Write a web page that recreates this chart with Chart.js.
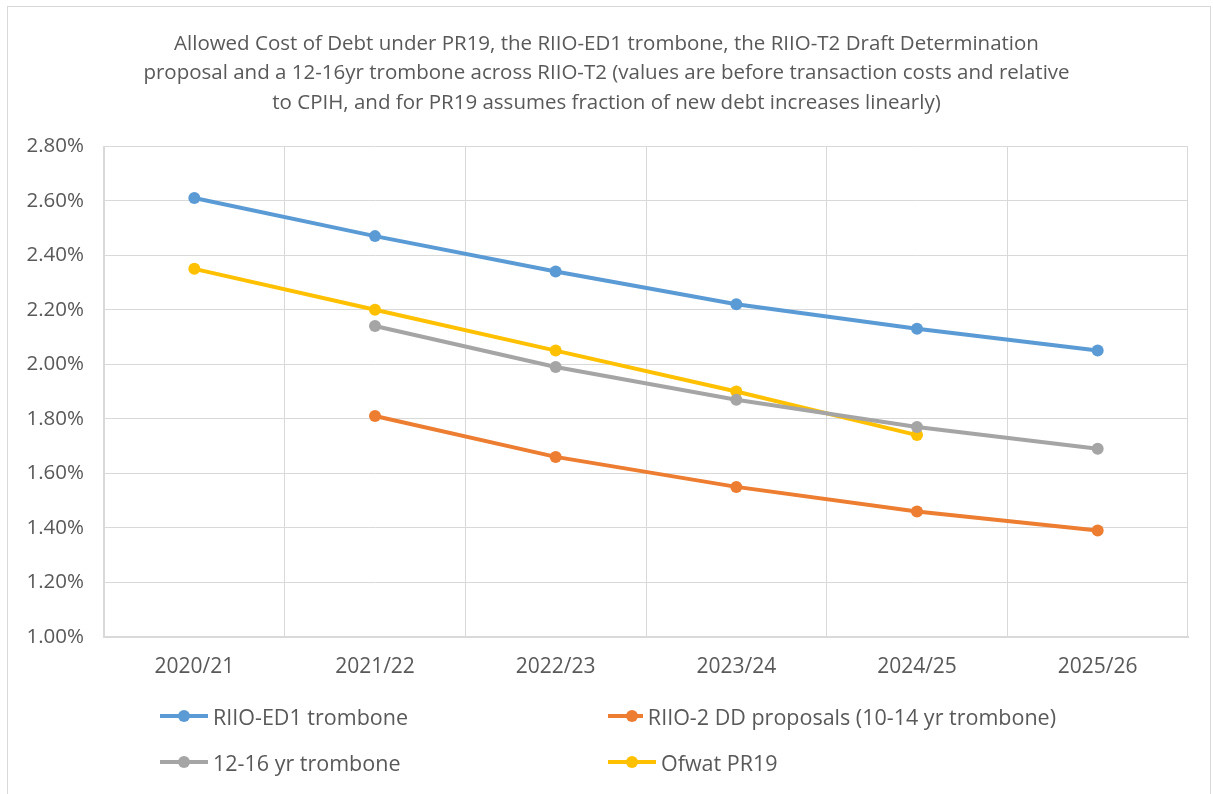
<!DOCTYPE html>
<html>
<head>
<meta charset="utf-8">
<script src="https://cdn.jsdelivr.net/npm/chart.js@4.4.1/dist/chart.umd.min.js"></script>
<style>
  html, body { margin: 0; padding: 0; background: #fff; }
  #wrap { position: relative; width: 1213px; height: 794px; overflow: hidden; }
  #frame { position: absolute; left: 7px; top: 6px; width: 1204px; height: 800px; border: 1px solid #d9d9d9; box-sizing: border-box; }
  #costChart { position: absolute; left: 0; top: 0; }
  #legend { position: absolute; left: 160px; top: 702px; display: grid; grid-template-columns: 448px 448px; row-gap: 18px; font-family: "Open Sans", "Noto Sans", sans-serif; font-size: 21.5px; color: #595959; }
  .item { display: flex; align-items: center; height: 28px; white-space: nowrap; }
  .mark { position: relative; width: 48px; height: 14px; margin-right: 5px; }
  .mark .ln { position: absolute; left: 0; right: 0; top: 5px; height: 4px; }
  .mark .dt { position: absolute; left: 18px; top: 1px; width: 12px; height: 12px; border-radius: 50%; }
</style>
</head>
<body>
<div id="wrap">
  <div id="frame"></div>
  <canvas id="costChart" width="1213" height="794"></canvas>
  <div id="legend"></div>
</div>
<script>
const years = ['2020/21', '2021/22', '2022/23', '2023/24', '2024/25', '2025/26'];
const ed1Trombone = [2.61, 2.47, 2.34, 2.22, 2.13, 2.05];
const ddProposals = [null, 1.81, 1.66, 1.55, 1.46, 1.39];
const trombone1216 = [null, 2.14, 1.99, 1.87, 1.77, 1.69];
const ofwatPR19 = [2.35, 2.20, 2.05, 1.90, 1.74, null];

const titleLines = [
  'Allowed Cost of Debt under PR19, the RIIO-ED1 trombone, the RIIO-T2 Draft Determination',
  'proposal and a 12-16yr trombone across RIIO-T2 (values are before transaction costs and relative',
  'to CPIH, and for PR19 assumes fraction of new debt increases linearly)'
];

const baseFont = '"Open Sans", "Noto Sans", sans-serif';

function series(label, data, color) {
  return {
    label: label,
    data: data,
    borderColor: color,
    backgroundColor: color,
    borderWidth: 4,
    pointRadius: 6,
    pointHoverRadius: 6,
    pointBorderWidth: 0,
    tension: 0,
    spanGaps: false
  };
}

const datasets = [
  series('RIIO-ED1 trombone', ed1Trombone, '#5b9bd5'),
  series('RIIO-2 DD proposals (10-14 yr trombone)', ddProposals, '#ed7d31'),
  series('12-16 yr trombone', trombone1216, '#a5a5a5'),
  series('Ofwat PR19', ofwatPR19, '#ffc000')
];

const ctx = document.getElementById('costChart').getContext('2d');
const chart = new Chart(ctx, {
  type: 'line',
  data: { labels: years, datasets: datasets },
  options: {
    responsive: false,
    animation: false,
    layout: { padding: { left: 25, right: 25, top: 20, bottom: 96 } },
    plugins: {
      legend: { display: false },
      tooltip: { enabled: false },
      title: {
        display: true,
        text: titleLines,
        color: '#595959',
        font: { family: baseFont, size: 20.5, weight: 'normal', lineHeight: 1.45 },
        padding: { top: 9, bottom: 28 }
      }
    },
    scales: {
      x: {
        offset: true,
        grid: { offset: true, color: '#d9d9d9', lineWidth: 1, drawTicks: false },
        border: { color: '#d9d9d9', width: 2 },
        ticks: { color: '#595959', font: { family: baseFont, size: 21 }, padding: 18 }
      },
      y: {
        min: 1.0,
        max: 2.8,
        // fixed axis width so the plot area starts at x = 104
        afterFit: scale => { scale.width = 79; },
        grid: { color: '#d9d9d9', lineWidth: 1, drawTicks: false },
        border: { color: '#d9d9d9', width: 1 },
        ticks: {
          stepSize: 0.2,
          color: '#595959',
          font: { family: baseFont, size: 20.5 },
          padding: 20,
          callback: v => v.toFixed(2) + '%'
        }
      }
    }
  }
});

// two-column legend built from the chart's own datasets
const legend = document.getElementById('legend');
chart.data.datasets.forEach(ds => {
  const item = document.createElement('div');
  item.className = 'item';
  item.innerHTML = `<span class="mark"><span class="ln" style="background:${ds.borderColor}"></span><span class="dt" style="background:${ds.borderColor}"></span></span><span>${ds.label}</span>`;
  legend.appendChild(item);
});
</script>
</body>
</html>
